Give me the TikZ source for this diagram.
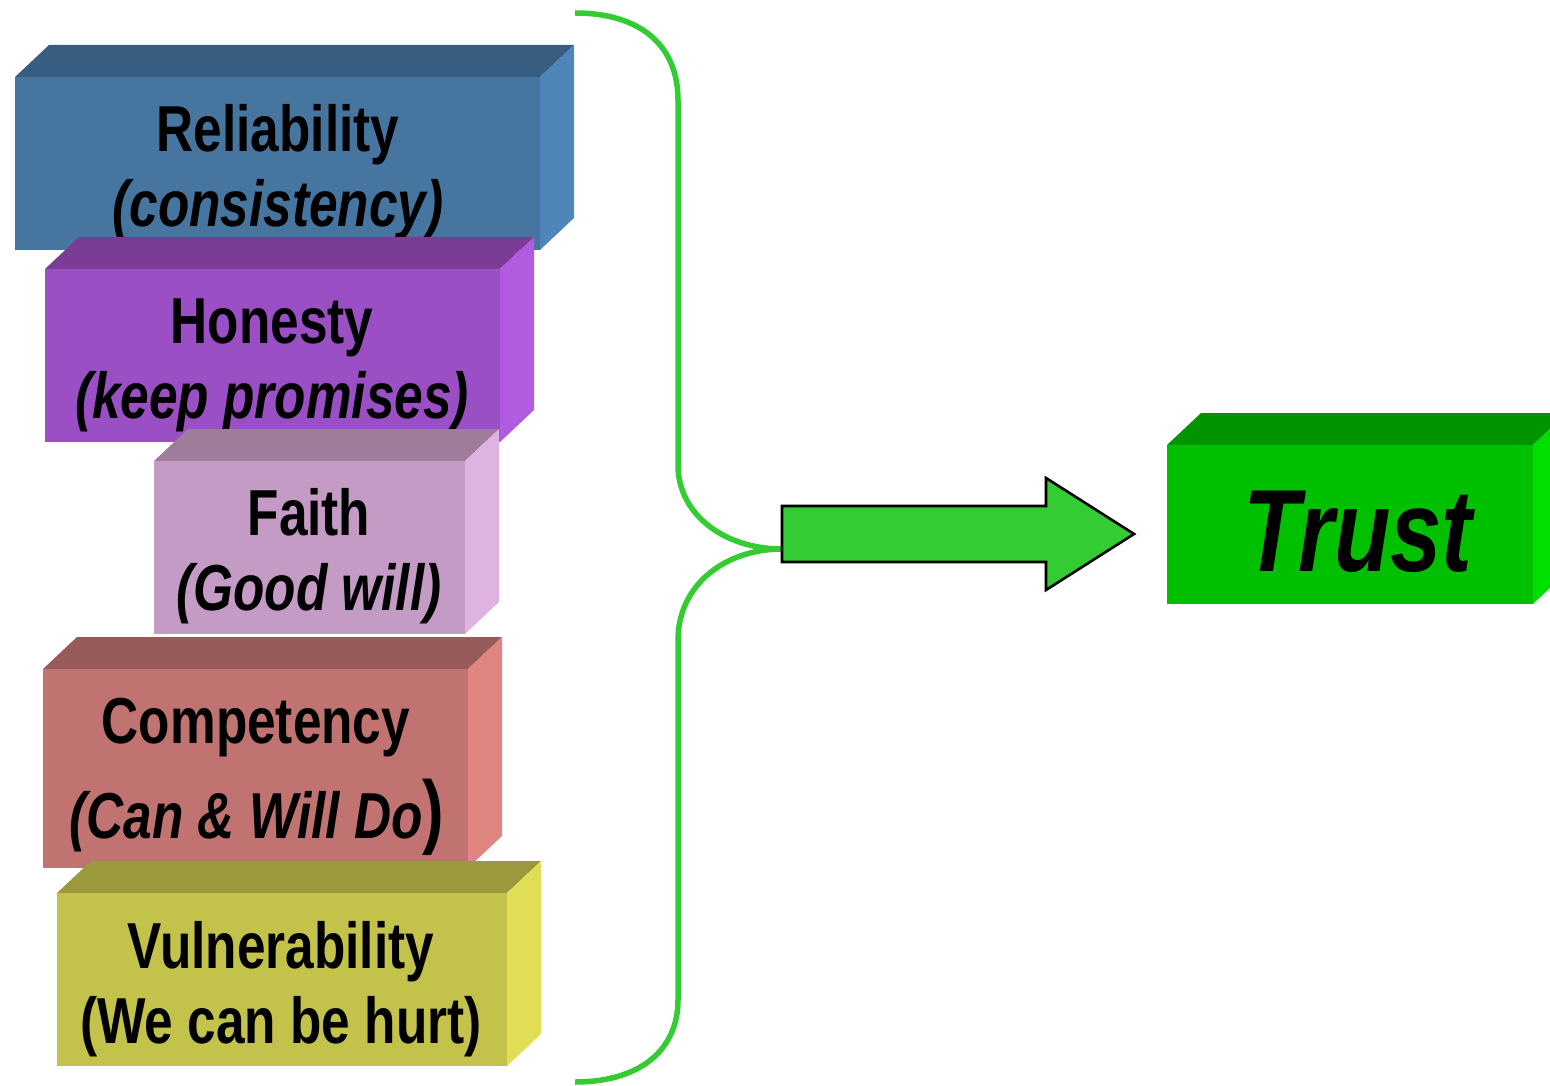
\documentclass[tikz,border=0pt]{standalone}
\usepackage{fontspec}
\newfontfamily\labfont[FakeStretch=0.79]{Liberation Sans}
\definecolor{bfront}{RGB}{70,118,160}
\definecolor{btop}{RGB}{55,94,128}
\definecolor{bside}{RGB}{78,134,186}
\definecolor{pfront}{RGB}{154,79,196}
\definecolor{ptop}{RGB}{122,60,148}
\definecolor{pside}{RGB}{176,91,224}
\definecolor{lfront}{RGB}{195,155,197}
\definecolor{ltop}{RGB}{158,124,154}
\definecolor{lside}{RGB}{223,179,224}
\definecolor{rfront}{RGB}{192,115,112}
\definecolor{rtop}{RGB}{151,91,90}
\definecolor{rside}{RGB}{224,134,128}
\definecolor{yfront}{RGB}{195,194,75}
\definecolor{ytop}{RGB}{154,154,60}
\definecolor{yside}{RGB}{224,222,85}
\definecolor{tfront}{RGB}{0,192,0}
\definecolor{ttop}{RGB}{0,148,0}
\definecolor{tside}{RGB}{0,224,0}
\definecolor{brgreen}{RGB}{51,204,51}
\newcommand\tdbox[7]{%
  \fill[#6] (#1,#2) -- (#1+34,#2-32) -- (#3+34,#2-32) -- (#3,#2) -- cycle;
  \fill[#7] (#3,#2) -- (#3+34,#2-32) -- (#3+34,#4-32) -- (#3,#4) -- cycle;
  \fill[#5] (#1,#2) rectangle (#3,#4);
}
\tikzset{
  lbl/.style={anchor=base, inner sep=0pt, font=\labfont\bfseries\fontsize{65}{70}\selectfont},
  ilbl/.style={lbl, font=\labfont\bfseries\itshape\fontsize{65}{70}\selectfont},
  brace/.style={draw=brgreen, line width=5.5pt},
  bigarrow/.style={draw=black, line width=2.6pt, fill=brgreen, line join=miter}
}
\begin{document}
\begin{tikzpicture}[x=1pt,y=-1pt]
\useasboundingbox (0,0) rectangle (1550,1086);
% boxes
\tdbox{15}{77}{540}{250}{bfront}{btop}{bside}
\node[lbl] (rel) at (278,152) {Reliability};
\node[ilbl] (relsub) at (278,226) {(consistency)};
\tdbox{45}{269}{500}{442}{pfront}{ptop}{pside}
\node[lbl] (hon) at (272,343) {Honesty};
\node[ilbl] (honsub) at (272,418) {(keep promises)};
\tdbox{154}{461}{465}{634}{lfront}{ltop}{lside}
\node[lbl] (fai) at (309,535) {Faith};
\node[ilbl] (faisub) at (309,610) {(Good will)};
\tdbox{43}{669}{468}{868}{rfront}{rtop}{rside}
\node[lbl] (com) at (256,743) {Competency};
\node[ilbl] (comsub) at (257,838) {(Can \& Will Do{\upshape\fontsize{82}{82}\selectfont)}};
\tdbox{57}{893}{507}{1066}{yfront}{ytop}{yside}
\node[lbl] (vul) at (281,968) {Vulnerability};
\node[lbl] (vulsub) at (281,1043) {(We can be hurt)};
% trust box
\tdbox{1167}{445}{1533}{604}{tfront}{ttop}{tside}
\node[ilbl, font=\labfont\bfseries\itshape\fontsize{117}{120}\selectfont] (trust) at (1358,571) {Trust};
% brace
\coordinate (btop) at (575,13);
\coordinate (bmid) at (782,549);
\coordinate (bbot) at (575,1082);
\draw[brace] (btop) .. controls (640,13) and (678,45) .. (678,100)
  -- (678,465) .. controls (678,515) and (725,549) .. (bmid);
\draw[brace] (bmid) .. controls (725,549) and (678,585) .. (678,640)
  -- (678,1000) .. controls (678,1050) and (640,1082) .. (bbot);
% arrow
\draw[bigarrow] (782,506) -- (1046,506) -- (1046,478) -- (1134,534)
  -- (1046,590) -- (1046,562) -- (782,562) -- cycle;
\end{tikzpicture}
\end{document}
